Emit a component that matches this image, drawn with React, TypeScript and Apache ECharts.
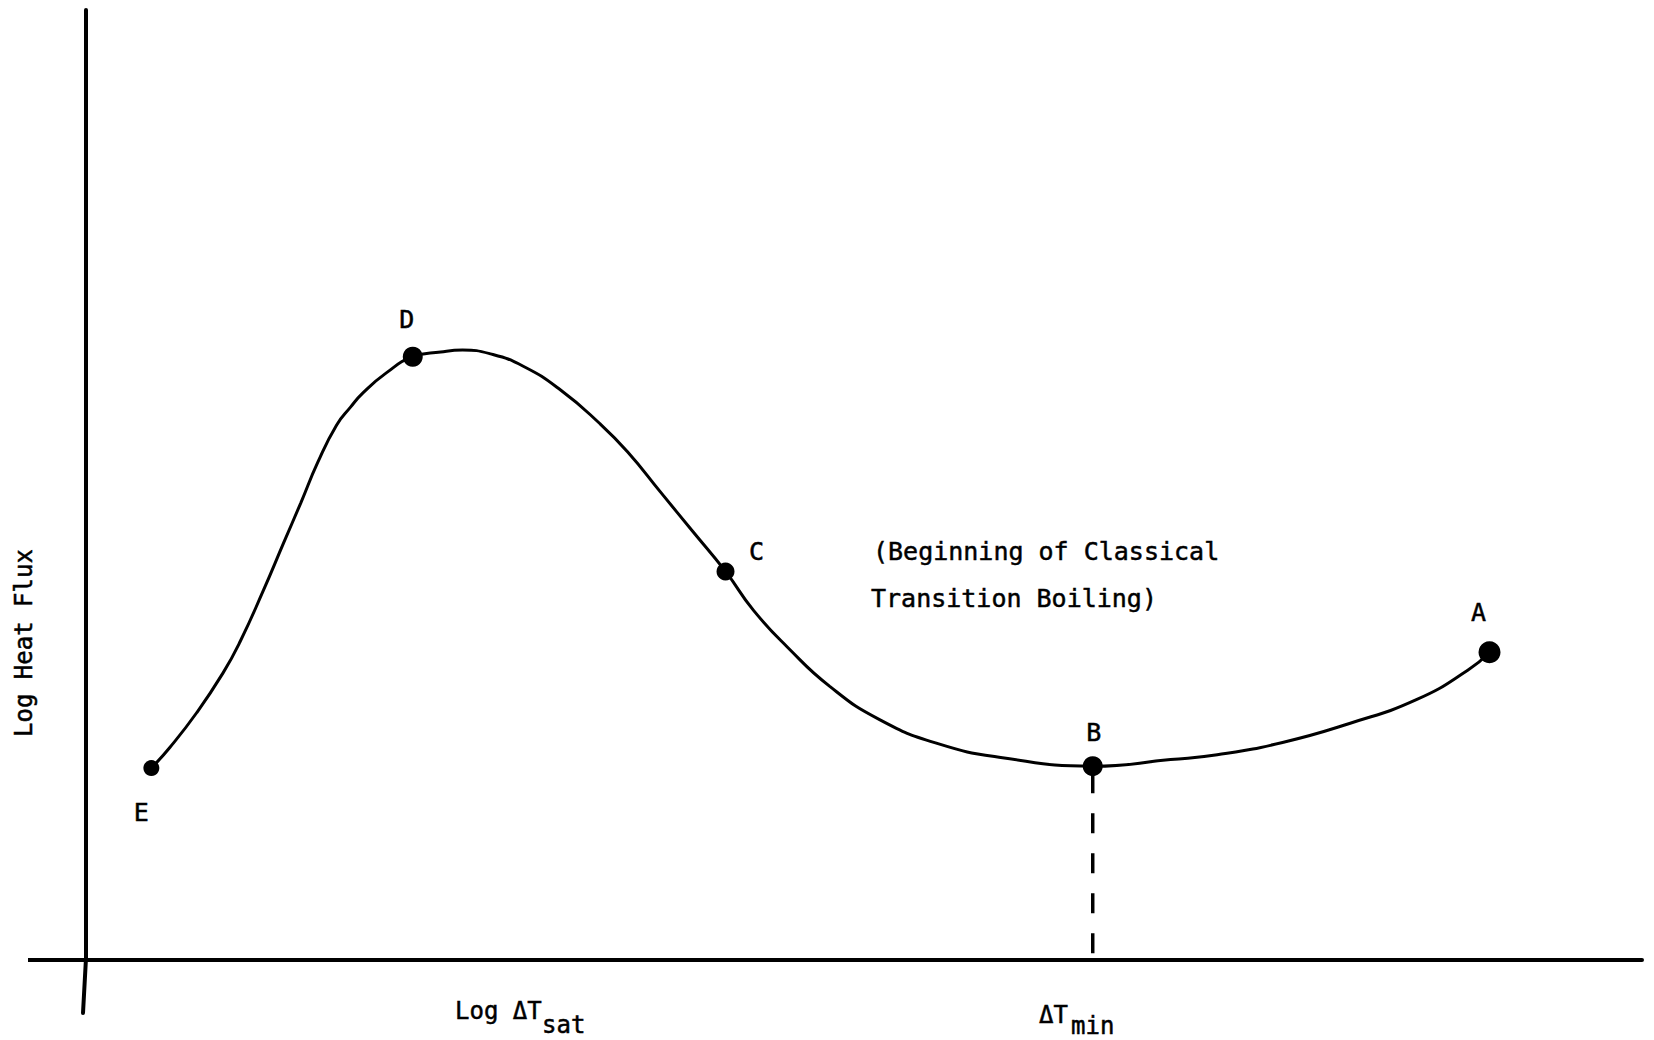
import React, { useEffect, useRef } from "react";
import * as echarts from "echarts";

// Boiling curve (abstract log units, 0..100 on both axes)
const curveX = [4.2, 5.4, 7.1, 8.8, 9.9, 11.4, 12.7, 13.8, 14.9, 16.1, 17.0, 17.8, 19.3, 21.0, 22.8, 24.2, 26.0, 28.1, 30.5, 33.0, 34.8, 36.9, 39.0, 41.1, 42.9, 45.1, 47.8, 51.0, 54.7, 58.9, 64.7, 69.7, 72.7, 76.9, 81.2, 85.5, 88.8, 90.2];
const curveY = [20.2, 22.4, 26.0, 30.2, 33.5, 38.9, 43.9, 48.1, 52.4, 56.3, 58.2, 59.7, 61.8, 63.5, 64.0, 64.2, 63.8, 62.5, 60.0, 56.5, 53.5, 49.3, 45.1, 40.9, 36.8, 32.9, 28.8, 25.3, 22.8, 21.3, 20.4, 21.1, 21.6, 22.9, 24.9, 27.4, 30.5, 32.4];

// Labelled points
const pointNames = ["E", "D", "C", "B", "A"];
const pointX = [4.2, 21.0, 41.1, 64.7, 90.2];
const pointY = [20.2, 63.5, 40.9, 20.4, 32.4];

// Texts
const yAxisTitle = "Log Heat Flux";
const xLabelMain = ["Log \u0394T", "\u0394T"];
const xLabelSub = ["sat", "min"];
const noteLines = ["(Beginning of Classical", "Transition Boiling)"];

const FONT = "'DejaVu Sans Mono', 'Liberation Mono', monospace";

export default function App() {
  const ref = useRef<HTMLDivElement>(null);

  useEffect(() => {
    if (!ref.current) return;
    const chart = echarts.init(ref.current, undefined, { renderer: "svg" });

    const labelOffsets = [[-10, 44], [-6, -37], [31, -20], [1, -34], [-11, -40]];
    const symbolSizes = [16, 20, 18, 20, 22];
    const bIndex = pointNames.indexOf("B");
    const txt = (text: string, x: number, y: number, size: number, extra: any = {}) => ({
      type: "text",
      x,
      y,
      ...extra,
      style: {
        text,
        font: `${size}px ${FONT}`,
        fill: "#000",
        stroke: "#000",
        lineWidth: 0.5,
        align: extra.align || "left",
        verticalAlign: "middle",
      },
    });

    chart.setOption({
      animation: false,
      backgroundColor: "#ffffff",
      grid: { left: 86, right: 12, top: 10, bottom: 80 },
      xAxis: {
        type: "value",
        min: 0,
        max: 100,
        axisLine: { show: true, onZero: false, lineStyle: { color: "#000", width: 4 } },
        axisTick: { show: false },
        axisLabel: { show: false },
        splitLine: { show: false },
      },
      yAxis: {
        type: "value",
        min: 0,
        max: 100,
        axisLine: { show: true, onZero: false, lineStyle: { color: "#000", width: 4 } },
        axisTick: { show: false },
        axisLabel: { show: false },
        splitLine: { show: false },
      },
      series: [
        {
          type: "line",
          data: curveX.map((x, i) => [x, curveY[i]]),
          smooth: 0.5,
          showSymbol: false,
          lineStyle: { color: "#000", width: 3 },
          z: 2,
        },
        {
          type: "line",
          data: [
            [pointX[bIndex], pointY[bIndex]],
            [pointX[bIndex], 0],
          ],
          showSymbol: false,
          lineStyle: { color: "#000", width: 3.5, type: [20, 20], dashOffset: 33 },
          z: 1,
        },
        {
          type: "scatter",
          data: pointNames.map((n, i) => ({
            value: [pointX[i], pointY[i]],
            name: n,
            symbolSize: symbolSizes[i],
            label: { offset: labelOffsets[i] },
          })),
          itemStyle: { color: "#000", opacity: 1 },
          emphasis: { disabled: true },
          label: {
            show: true,
            position: "inside",
            formatter: (p: any) => p.name,
            color: "#000",
            textBorderColor: "#000",
            textBorderWidth: 0.5,
            fontFamily: FONT,
            fontSize: 25,
            align: "center",
            verticalAlign: "middle",
          },
          z: 3,
        },
      ],
      graphic: [
        { type: "line", shape: { x1: 28, y1: 960, x2: 88, y2: 960 }, style: { stroke: "#000", lineWidth: 4 } },
        { type: "line", shape: { x1: 86, y1: 958, x2: 83, y2: 1013 }, style: { stroke: "#000", lineWidth: 4, lineCap: "round" } },
        txt(yAxisTitle, 24, 643, 24, { rotation: Math.PI / 2, align: "center" }),
        txt(xLabelMain[0], 455, 1011, 24),
        txt(xLabelSub[0], 542, 1025, 24),
        txt(xLabelMain[1], 1039, 1015, 24),
        txt(xLabelSub[1], 1071, 1026, 24),
        txt(noteLines[0], 873, 551, 25),
        txt(noteLines[1], 871, 598, 25),
      ],
    });

    return () => chart.dispose();
  }, []);

  return (
    <div
      ref={ref}
      style={{ position: "fixed", left: 0, top: 0, width: 1654, height: 1040, background: "#fff" }}
    />
  );
}
